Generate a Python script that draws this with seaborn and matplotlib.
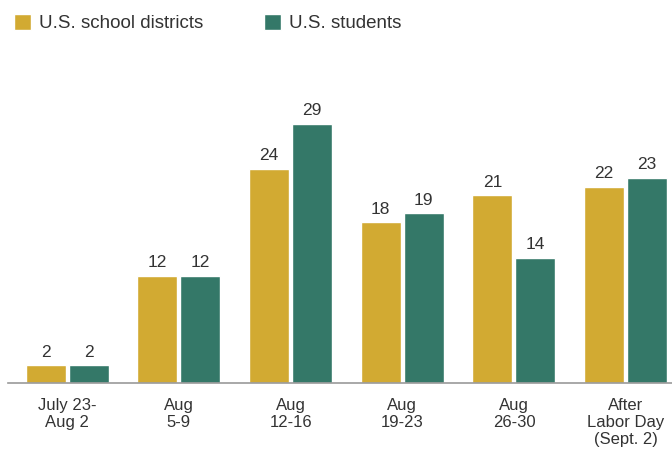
import matplotlib
matplotlib.use("Agg")
import matplotlib.pyplot as plt
import seaborn as sns
import pandas as pd
from matplotlib import font_manager

categories = ["July 23-\nAug 2", "Aug\n5-9", "Aug\n12-16", "Aug\n19-23", "Aug\n26-30", "After\nLabor Day\n(Sept. 2)"]
districts = [2, 12, 24, 18, 21, 22]
students = [2, 12, 29, 19, 14, 23]
series_names = ["U.S. school districts", "U.S. students"]
colors = ["#D2AA32", "#347868"]

df = pd.DataFrame({
    "period": categories * 2,
    "value": districts + students,
    "series": [series_names[0]] * len(categories) + [series_names[1]] * len(categories),
})

sns.set_theme(style="white")
names = {f.name for f in font_manager.fontManager.ttflist}
narrow = "Liberation Sans Narrow" if "Liberation Sans Narrow" in names else "Liberation Sans"
plt.rcParams["font.family"] = ["Liberation Sans", "DejaVu Sans"]

fig = plt.figure(figsize=(6.72, 4.59), dpi=100)
ax = fig.add_axes([8 / 672, 1 - 383 / 459, 1 - 8 / 672, (383 - 60) / 459])

sns.barplot(data=df, x="period", y="value", hue="series", palette=colors,
            width=0.77, gap=0.07, ax=ax, saturation=1, legend=True)

for c in ax.containers:
    ax.bar_label(c, labels=[f"{v:.0f}" for v in c.datavalues], padding=4,
                 fontsize=12.5, color="#333333")

ax.set_ylim(0, (383 - 60) / 8.93)
ax.set_xlim(-0.53, 5.415)
ax.set_xlabel("")
ax.set_ylabel("")
ax.set_yticks([])
for s in ["top", "right", "left"]:
    ax.spines[s].set_visible(False)
ax.spines["bottom"].set_color("#9a9a9a")
ax.spines["bottom"].set_linewidth(1.2)
ax.tick_params(axis="x", length=0, pad=11)
for t in ax.get_xticklabels():
    t.set_fontfamily(narrow)
    t.set_fontsize(12)
    t.set_color("#333333")
    t.set_linespacing(1.15)

ax.legend(loc="upper left", bbox_to_anchor=(-0.002, 1.165), ncol=2, frameon=False,
          fontsize=13.5, handlelength=0.9, handleheight=0.9, handletextpad=0.45,
          columnspacing=3.2, borderaxespad=0, labelcolor="#333333")

fig.savefig("out.png", dpi=100)
